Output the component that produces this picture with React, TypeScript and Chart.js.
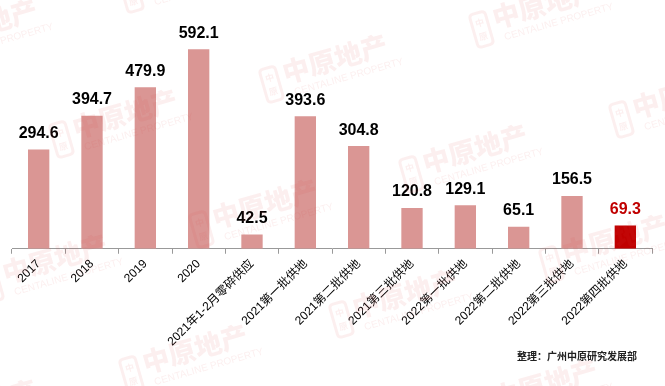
import React, { useEffect, useRef } from "react";
import { Chart, registerables } from "chart.js";

Chart.register(...registerables);

const categories = [
  "2017",
  "2018",
  "2019",
  "2020",
  "2021年1-2月零碎供应",
  "2021第一批供地",
  "2021第二批供地",
  "2021第三批供地",
  "2022第一批供地",
  "2022第二批供地",
  "2022第三批供地",
  "2022第四批供地",
];
const values = [294.6, 394.7, 479.9, 592.1, 42.5, 393.6, 304.8, 120.8, 129.1, 65.1, 156.5, 69.3];
const highlightIndex = 11;
const sourceText = "整理：广州中原研究发展部";
const watermarkCn = "中原地产";
const watermarkEn = "CENTALINE PROPERTY";

const BAR = "#DA9694";
const HIGHLIGHT = "#C00000";

const valueLabels = {
  id: "valueLabels",
  afterDatasetsDraw(chart: any) {
    const ctx = chart.ctx;
    const meta = chart.getDatasetMeta(0);
    ctx.save();
    ctx.font = "bold 16px 'Liberation Sans', Arial, sans-serif";
    ctx.textAlign = "center";
    ctx.textBaseline = "bottom";
    meta.data.forEach((el: any, i: number) => {
      ctx.fillStyle = i === highlightIndex ? HIGHLIGHT : "#000000";
      ctx.fillText(values[i].toFixed(1), el.x, el.y - 8);
    });
    ctx.restore();
  },
};

const watermarks = {
  id: "watermarks",
  afterDraw(chart: any) {
    const ctx = chart.ctx;
    const w = chart.width;
    const h = chart.height;
    const base = { x: 325, y: 68 };
    const u = { x: 210, y: -55 };
    const v = { x: -70, y: 145 };
    ctx.save();
    const col = "rgba(225, 70, 70, 0.085)";
    for (let m = -2; m <= 4; m++) {
      for (let k = -4; k <= 5; k++) {
        const cx = base.x + k * u.x + m * v.x;
        const cy = base.y + k * u.y + m * v.y;
        if (cx < -80 || cx > w + 80 || cy < -40 || cy > h + 40) continue;
        ctx.save();
        ctx.translate(cx, cy);
        ctx.rotate((-16 * Math.PI) / 180);
        ctx.fillStyle = col;
        ctx.strokeStyle = col;
        ctx.lineWidth = 3;
        ctx.beginPath();
        const lx = -64, ly = -16, lw = 16, lh = 34, r = 4;
        ctx.moveTo(lx + r, ly);
        ctx.lineTo(lx + lw - r, ly);
        ctx.quadraticCurveTo(lx + lw, ly, lx + lw, ly + r);
        ctx.lineTo(lx + lw, ly + lh - r);
        ctx.quadraticCurveTo(lx + lw, ly + lh, lx + lw - r, ly + lh);
        ctx.lineTo(lx + r, ly + lh);
        ctx.quadraticCurveTo(lx, ly + lh, lx, ly + lh - r);
        ctx.lineTo(lx, ly + r);
        ctx.quadraticCurveTo(lx, ly, lx + r, ly);
        ctx.stroke();
        ctx.font = "bold 9px 'Noto Sans CJK SC', sans-serif";
        ctx.textAlign = "center";
        ctx.textBaseline = "middle";
        ctx.fillText("中", lx + lw / 2, ly + 10);
        ctx.fillText("原", lx + lw / 2, ly + 24);
        ctx.textAlign = "left";
        ctx.textBaseline = "alphabetic";
        ctx.font = "900 27px 'Noto Sans CJK SC', sans-serif";
        ctx.fillText(watermarkCn, -42, 4);
        ctx.font = "10px 'Liberation Sans', Arial, sans-serif";
        ctx.fillText(watermarkEn, -36, 18);
        ctx.restore();
      }
    }
    ctx.restore();
  },
};

export default function App() {
  const ref = useRef<HTMLCanvasElement>(null);
  useEffect(() => {
    if (!ref.current) return;
    const chart = new Chart(ref.current, {
      type: "bar",
      data: {
        labels: categories,
        datasets: [
          {
            data: values,
            backgroundColor: values.map((_, i) => (i === highlightIndex ? HIGHLIGHT : BAR)),
            categoryPercentage: 1,
            barPercentage: 0.4,
          },
        ],
      },
      options: {
        animation: false,
        responsive: false,
        maintainAspectRatio: false,
        layout: { padding: { top: 13, left: 12, right: 13, bottom: 34 } },
        plugins: { legend: { display: false }, tooltip: { enabled: false } },
        scales: {
          y: { display: false, min: 0, max: 700 },
          x: {
            offset: true,
            border: { display: true, color: "#999999", width: 1 },
            grid: {
              offset: true,
              drawOnChartArea: false,
              drawTicks: true,
              tickLength: 5,
              color: "#999999",
            },
            ticks: {
              minRotation: 45,
              maxRotation: 45,
              autoSkip: false,
              color: "#000000",
              padding: 3,
              font: { size: 12, family: "'Liberation Sans', 'Noto Sans CJK SC', sans-serif" },
            },
          },
        },
      },
      plugins: [valueLabels, watermarks],
    });
    return () => chart.destroy();
  }, []);
  return (
    <div style={{ position: "fixed", left: 0, top: 0, width: 665, height: 386, background: "#fff" }}>
      <canvas ref={ref} width={665} height={386} style={{ width: 665, height: 386 }} />
      <div
        style={{
          position: "absolute",
          left: 517,
          top: 348,
          fontSize: 10,
          fontWeight: "bold",
          color: "#222",
          fontFamily: "'Noto Sans CJK SC', sans-serif",
          whiteSpace: "nowrap",
        }}
      >
        {sourceText}
      </div>
    </div>
  );
}
